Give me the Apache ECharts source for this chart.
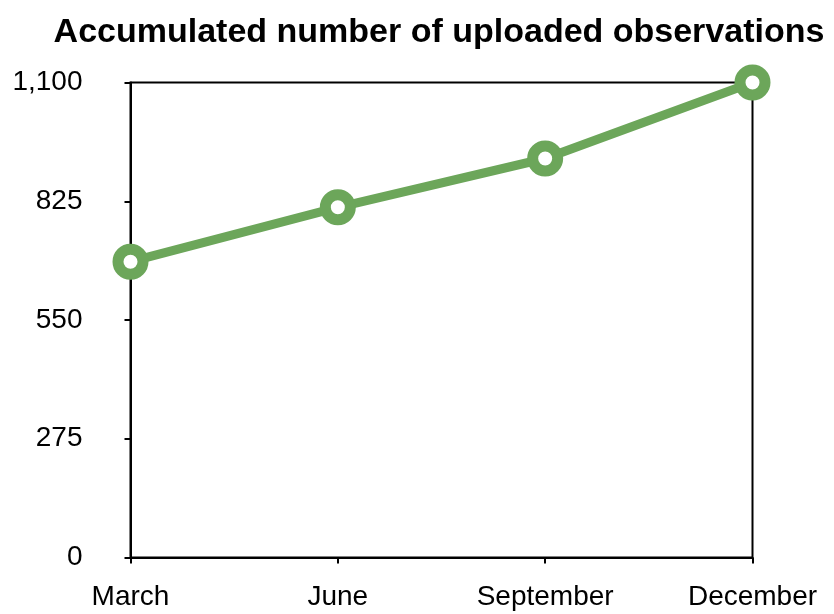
<!DOCTYPE html>
<html><head><meta charset="utf-8">
<script src="https://cdn.jsdelivr.net/npm/echarts@6/dist/echarts.min.js"></script>
<style>html,body{margin:0;padding:0;background:#fff}#c{width:834px;height:614px}</style>
</head><body><div id="c"></div>
<script>
const months = ['March', 'June', 'September', 'December'];
const observations = [685, 811, 924, 1100];
const yTicks = [0, 275, 550, 825, 1100];

const chart = echarts.init(document.getElementById('c'));
const font = '"Liberation Sans", Arial, Helvetica, sans-serif';
chart.setOption({
  animation: false,
  backgroundColor: '#fff',
  title: {
    text: 'Accumulated number of uploaded observations',
    left: 434, top: 11, textAlign: 'center',
    textStyle: { fontFamily: font, fontSize: 34, fontWeight: 'bold', color: '#000' }
  },
  grid: { left: 130.5, right: 81.5, top: 82.5, bottom: 56.5, show: true, borderColor: '#000', borderWidth: 2, backgroundColor: 'transparent' },
  xAxis: {
    type: 'category', data: months, boundaryGap: false,
    axisLine: { lineStyle: { color: '#000', width: 2 } },
    axisTick: { show: true, length: 6, lineStyle: { color: '#000', width: 2 }, alignWithLabel: true },
    axisLabel: { color: '#000', fontFamily: font, fontSize: 28, margin: 26 },
    splitLine: { show: false }
  },
  yAxis: {
    type: 'value', min: 0, max: 1100, interval: 275,
    axisLine: { show: true, lineStyle: { color: '#000', width: 2 } },
    axisTick: { show: true, length: 6, lineStyle: { color: '#000', width: 2 } },
    axisLabel: { color: '#000', fontFamily: font, fontSize: 28, margin: 48,
      formatter: v => yTicks.includes(v) ? v.toLocaleString('en-US') : '' },
    splitLine: { show: false }
  },
  series: [{
    type: 'line', data: observations,
    lineStyle: { color: '#6ca65a', width: 9 },
    symbol: 'circle', symbolSize: 25,
    itemStyle: { color: '#fff', borderColor: '#6ca65a', borderWidth: 11 },
    clip: false, z: 5
  }]
});
</script></body></html>
